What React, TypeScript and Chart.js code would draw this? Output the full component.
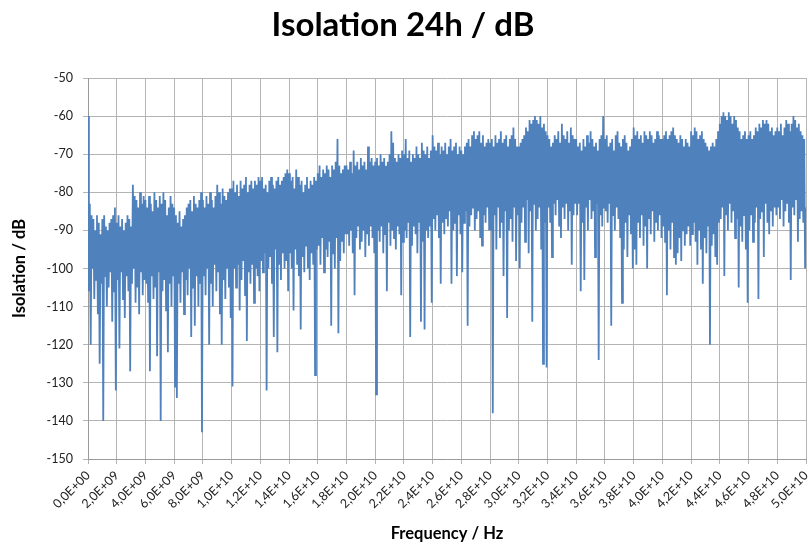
import React, { useEffect, useRef } from "react";
import { Chart, registerables } from "chart.js";

Chart.register(...registerables);

const TITLE = "Isolation 24h / dB";
const X_TITLE = "Frequency / Hz";
const Y_TITLE = "Isolation / dB";

// Trace sampling: local maxima at k * 0.125 GHz, local minima half-way between
const SAMPLE_STEP_HZ = 1.25e8;

const X_MIN = 0;
const X_MAX = 5e10;
const X_STEP = 2e9;
const Y_MIN = -150;
const Y_MAX = -50;
const Y_STEP = 10;

// Local maxima of the trace (dB), at 0, 0.125, 0.25 ... 50 GHz (one row per 2 GHz)
const PEAKS_DB = [
  -60, -83, -86, -87, -90, -86, -88, -91, -87, -86, -89, -90, -88, -87, -86, -84,
  -88, -86, -89, -87, -90, -88, -86, -87, -89, -78, -81, -82, -84, -80, -83, -81,
  -82, -84, -81, -83, -85, -80, -82, -84, -81, -83, -80, -82, -86, -84, -81, -83,
  -84, -86, -88, -85, -89, -87, -86, -84, -83, -82, -85, -81, -83, -84, -82, -80,
  -82, -84, -81, -83, -80, -82, -84, -81, -78, -80, -83, -79, -81, -82, -80, -79,
  -79, -77, -80, -78, -81, -77, -79, -78, -76, -80, -78, -77, -79, -77, -78, -76,
  -77, -76, -79, -78, -80, -77, -76, -78, -79, -77, -76, -78, -77, -76, -75, -74,
  -75, -77, -76, -79, -74, -76, -78, -77, -80, -78, -76, -79, -77, -78, -76, -77,
  -75, -73, -76, -74, -75, -73, -74, -76, -73, -74, -72, -66, -73, -75, -74, -73,
  -73, -74, -72, -75, -69, -73, -72, -74, -71, -73, -72, -74, -68, -72, -71, -73,
  -72, -71, -73, -70, -72, -71, -73, -72, -70, -64, -67, -71, -72, -70, -71, -69,
  -70, -66, -71, -69, -72, -70, -71, -68, -70, -71, -67, -69, -70, -68, -71, -69,
  -65, -68, -69, -67, -70, -68, -69, -67, -70, -68, -66, -69, -68, -67, -70, -68,
  -69, -70, -68, -67, -66, -68, -65, -64, -66, -65, -64, -67, -65, -68, -67, -66,
  -67, -66, -68, -65, -67, -66, -64, -67, -66, -65, -68, -66, -65, -63, -66, -68,
  -68, -67, -66, -65, -63, -64, -61, -62, -61, -60, -61, -62, -60, -63, -62, -64,
  -65, -66, -68, -67, -65, -66, -64, -67, -62, -65, -66, -64, -67, -63, -65, -66,
  -66, -68, -67, -69, -66, -68, -65, -67, -64, -66, -68, -67, -69, -66, -65, -60,
  -66, -65, -68, -67, -66, -69, -65, -64, -67, -68, -66, -65, -67, -69, -68, -66,
  -63, -65, -64, -66, -65, -67, -64, -65, -66, -64, -65, -67, -66, -64, -65, -66,
  -66, -65, -64, -66, -65, -64, -63, -65, -66, -67, -65, -66, -68, -66, -67, -68,
  -64, -65, -63, -64, -66, -65, -64, -66, -67, -68, -69, -68, -67, -68, -66, -64,
  -62, -60, -59, -60, -61, -59, -60, -62, -60, -61, -63, -64, -66, -65, -64, -66,
  -65, -64, -66, -65, -63, -64, -62, -63, -61, -62, -61, -62, -64, -63, -65, -64,
  -63, -64, -62, -65, -63, -61, -62, -64, -62, -60, -61, -63, -62, -64, -65, -66,
  -84,
];

// Local minima of the trace (dB), at 0.0625, 0.1875 ... 49.9375 GHz (one row per 2 GHz)
const TROUGHS_DB = [
  -106, -120, -100, -108, -103, -112, -125, -104, -140, -102, -110, -105, -101, -114, -106, -132,
  -103, -121, -101, -108, -113, -102, -106, -127, -104, -100, -109, -105, -112, -101, -107, -103,
  -104, -109, -127, -102, -108, -105, -123, -101, -140, -106, -103, -111, -122, -104, -110, -102,
  -131, -134, -104, -109, -101, -112, -103, -107, -100, -118, -105, -115, -102, -110, -104, -143,
  -102, -107, -100, -120, -104, -110, -99, -106, -101, -112, -120, -103, -108, -100, -105, -113,
  -131, -100, -105, -99, -111, -103, -98, -107, -119, -101, -104, -99, -109, -100, -102, -106,
  -98, -101, -96, -132, -100, -97, -104, -118, -95, -122, -99, -103, -96, -100, -98, -106,
  -96, -100, -111, -95, -99, -102, -116, -97, -101, -94, -100, -103, -96, -99, -128, -95,
  -94, -99, -92, -101, -95, -97, -93, -115, -96, -100, -92, -117, -98, -93, -96, -91,
  -91, -94, -90, -96, -107, -92, -89, -95, -93, -90, -97, -91, -94, -89, -92, -96,
  -133, -90, -93, -89, -96, -91, -106, -88, -94, -90, -92, -95, -89, -91, -107, -93,
  -90, -92, -88, -118, -94, -89, -91, -96, -88, -114, -93, -116, -90, -92, -89, -109,
  -87, -90, -86, -92, -104, -88, -91, -87, -89, -85, -104, -90, -88, -102, -86, -91,
  -101, -88, -85, -115, -89, -86, -84, -90, -87, -85, -92, -94, -86, -88, -84, -90,
  -90, -138, -86, -95, -84, -92, -88, -102, -85, -113, -90, -87, -93, -84, -98, -86,
  -100, -88, -84, -93, -82, -96, -85, -114, -83, -90, -87, -84, -95, -125, -88, -126,
  -84, -88, -97, -83, -86, -82, -89, -92, -84, -87, -83, -90, -85, -99, -86, -83,
  -86, -83, -106, -88, -103, -84, -90, -82, -87, -85, -97, -83, -124, -86, -89, -84,
  -85, -88, -83, -115, -86, -90, -84, -87, -92, -109, -95, -88, -97, -86, -91, -100,
  -95, -99, -88, -92, -86, -94, -89, -100, -87, -91, -85, -93, -88, -90, -86, -92,
  -89, -93, -107, -90, -95, -88, -97, -99, -96, -92, -98, -90, -94, -91, -89, -94,
  -91, -88, -93, -99, -90, -95, -104, -92, -96, -89, -120, -94, -91, -97, -99, -88,
  -87, -84, -102, -86, -90, -83, -88, -85, -92, -87, -105, -89, -93, -86, -95, -109,
  -90, -86, -93, -88, -84, -108, -87, -85, -97, -83, -88, -91, -85, -89, -84, -86,
  -84, -87, -82, -89, -85, -83, -88, -103, -84, -86, -82, -93, -87, -85, -88, -100,
];

function formatFreq(v: number): string {
  if (Math.abs(v) < 1) return "0,0E+00";
  const exp = Math.floor(Math.log10(v) + 1e-9);
  const m = v / Math.pow(10, exp);
  const e = exp < 10 ? "0" + exp : String(exp);
  return m.toFixed(1).replace(".", ",") + "E+" + e;
}

function buildTrace() {
  const pts: { x: number; y: number }[] = [];
  for (let k = 0; k < PEAKS_DB.length; k++) {
    pts.push({ x: k * SAMPLE_STEP_HZ, y: PEAKS_DB[k] });
    if (k < TROUGHS_DB.length) {
      pts.push({ x: (k + 0.5) * SAMPLE_STEP_HZ, y: TROUGHS_DB[k] });
    }
  }
  return pts;
}

export default function App() {
  const ref = useRef<HTMLCanvasElement>(null);

  useEffect(() => {
    document.body.style.margin = "0";
    const canvas = ref.current;
    if (!canvas) return;
    const gridColor = "#b4b4b4";
    const chart = new Chart(canvas, {
      type: "line",
      data: {
        datasets: [
          {
            data: buildTrace(),
            borderColor: "#4F81BD",
            borderWidth: 1.8,
            pointRadius: 0,
            fill: false,
            tension: 0,
          },
        ],
      },
      options: {
        animation: false,
        responsive: false,
        maintainAspectRatio: false,
        parsing: false as any,
        normalized: true,
        layout: { padding: { left: 0, right: 3, top: 0, bottom: 0 } },
        plugins: {
          legend: { display: false },
          tooltip: { enabled: false },
          title: {
            display: true,
            text: TITLE,
            color: "#000",
            font: { family: "Lato", size: 33, weight: "bold" },
            padding: { top: 6, bottom: 32.4 },
          },
        },
        scales: {
          x: {
            type: "linear",
            min: X_MIN,
            max: X_MAX,
            ticks: {
              stepSize: X_STEP,
              autoSkip: false,
              maxRotation: 45,
              minRotation: 45,
              padding: 4,
              color: "#222",
              font: { family: "Lato", size: 12.5 },
              callback: (v: any) => formatFreq(Number(v)),
            },
            grid: { color: gridColor, tickLength: 5, lineWidth: 1 },
            border: { color: "#9a9a9a" },
            title: {
              display: true,
              text: X_TITLE,
              color: "#000",
              font: { family: "Lato", size: 16.5, weight: "bold" },
              padding: { top: 0, bottom: 5 },
            },
            afterFit: (s: any) => {
              s.height = 90;
              s.paddingRight = 0;
            },
          },
          y: {
            type: "linear",
            min: Y_MIN,
            max: Y_MAX,
            ticks: {
              stepSize: Y_STEP,
              padding: 10,
              color: "#222",
              font: { family: "Lato", size: 12.5 },
            },
            grid: { color: gridColor, tickLength: 5, lineWidth: 1 },
            border: { color: "#9a9a9a" },
            title: {
              display: true,
              text: Y_TITLE,
              color: "#000",
              font: { family: "Lato", size: 16.5, weight: "bold" },
              padding: { top: 10, bottom: 0 },
            },
            afterFit: (s: any) => {
              s.width = 88;
            },
          },
        },
      },
    });
    return () => chart.destroy();
  }, []);

  return <canvas ref={ref} width={809} height={549} style={{ display: "block" }} />;
}
